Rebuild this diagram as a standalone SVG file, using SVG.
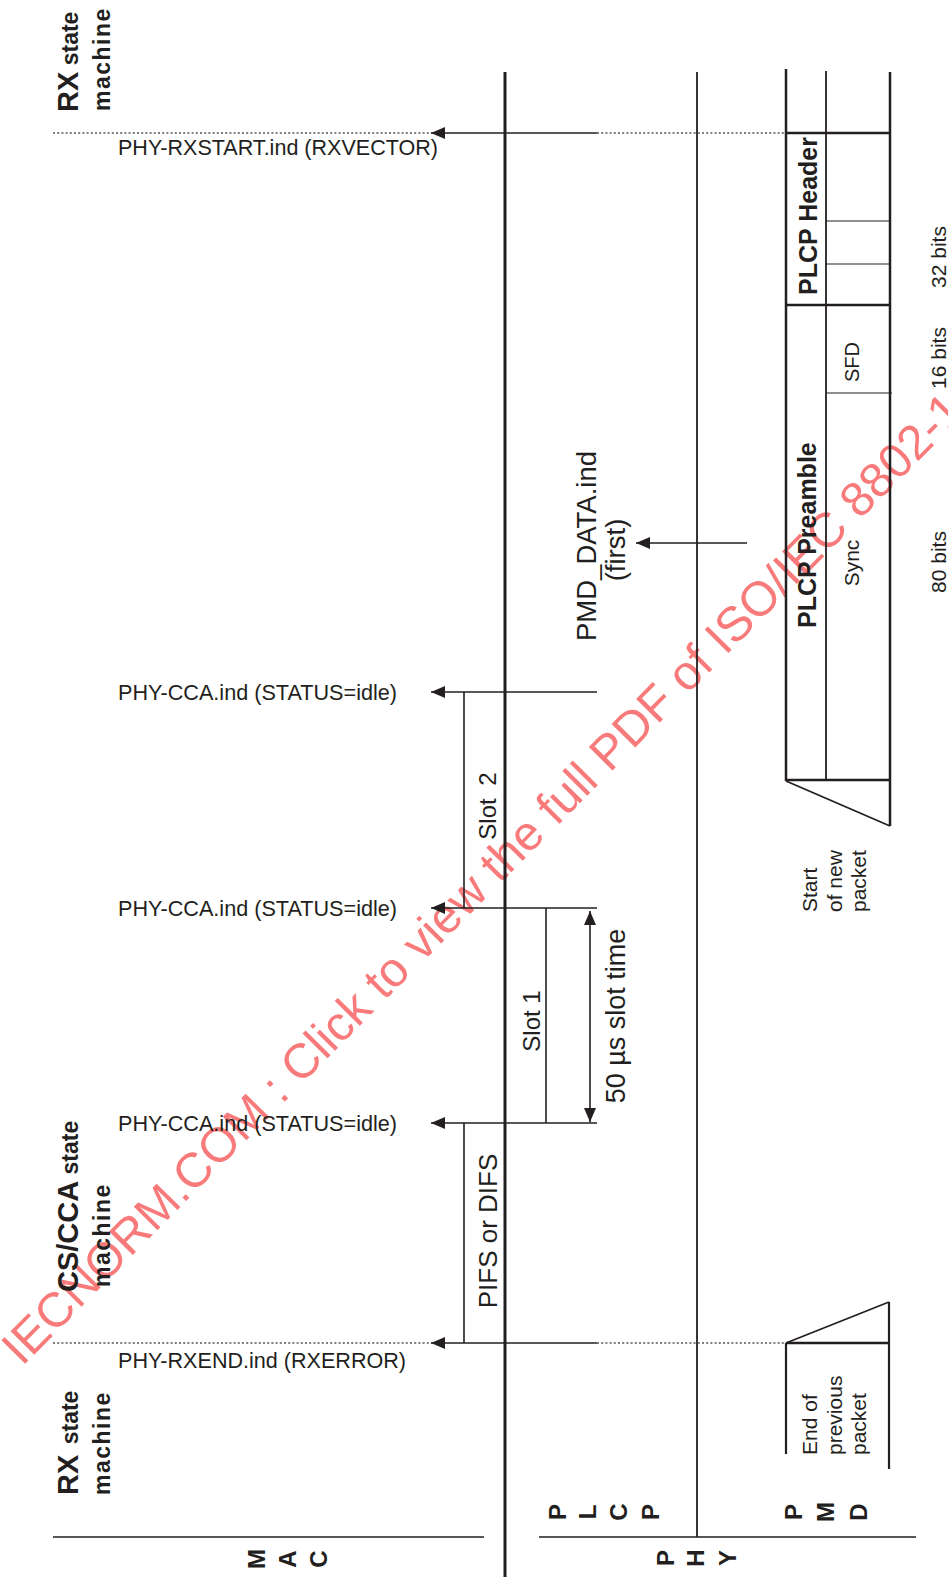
<svg xmlns="http://www.w3.org/2000/svg" width="948" height="1577" viewBox="0 0 948 1577">
<defs>
<style>
text{font-family:"Liberation Sans",Arial,Helvetica,sans-serif;fill:#231f20}
.b{font-weight:bold}
.lbl{font-size:21px}
.prim{font-size:21.6px}
.ltr{font-size:24px;font-weight:bold;text-anchor:middle}
.ln{stroke:#231f20;fill:none}
.dot{stroke:#555;stroke-width:1.3;stroke-dasharray:2 2.2;fill:none}
.ar{stroke:#231f20;stroke-width:1.6;fill:none}
.wm{font-size:48.5px;fill:#f87a7a}
.mid{text-anchor:middle}
</style>
<marker id="ah" markerUnits="userSpaceOnUse" viewBox="0 0 14 12" refX="14" refY="6" markerWidth="14" markerHeight="12" orient="auto-start-reverse">
<path d="M0,0 L14,6 L0,12 z" fill="#231f20"/>
</marker>
</defs>
<rect width="948" height="1577" fill="#fff"/>

<!-- watermark -->
<text class="wm" transform="translate(22,1367) rotate(-45.3)">IECNORM.COM : Click to view the full PDF of ISO/IEC 8802-1</text>

<!-- layer lines -->
<g id="lifelines">
<line class="ln" x1="505" y1="72" x2="505" y2="1577" stroke-width="3"/>
<line class="ln" x1="697" y1="72" x2="697" y2="1537" stroke-width="1.8"/>
<line class="ln" x1="53" y1="1537" x2="484" y2="1537" stroke-width="1.6"/>
<line class="ln" x1="539" y1="1537" x2="916" y2="1537" stroke-width="1.6"/>
</g>

<!-- PMD frame: new packet -->
<g id="new-packet">
<line class="ln" x1="786" y1="69" x2="786" y2="781" stroke-width="2.5"/>
<line class="ln" x1="826" y1="71" x2="826" y2="780" stroke-width="1.8"/>
<line class="ln" x1="890" y1="72" x2="890" y2="826" stroke-width="2.5"/>
<line class="ln" x1="786" y1="133" x2="890" y2="133" stroke-width="2.5"/>
<line class="ln" x1="786" y1="305" x2="890" y2="305" stroke-width="2.5"/>
<line class="ln" x1="786" y1="780" x2="890" y2="780" stroke-width="2.5"/>
<line class="ln" x1="826" y1="221" x2="890" y2="221" stroke-width="1.2"/>
<line class="ln" x1="826" y1="264" x2="890" y2="264" stroke-width="1.2"/>
<line class="ln" x1="826" y1="393" x2="892" y2="393" stroke-width="1.2"/>
<line class="ln" x1="786" y1="781" x2="890" y2="826" stroke-width="1.8"/>
</g>

<!-- PMD frame: previous packet -->
<g id="prev-packet">
<line class="ln" x1="786" y1="1343" x2="786" y2="1454" stroke-width="2.2"/>
<line class="ln" x1="889" y1="1302" x2="889" y2="1469" stroke-width="2.2"/>
<line class="ln" x1="786" y1="1343" x2="889" y2="1343" stroke-width="2.5"/>
<line class="ln" x1="786" y1="1343" x2="889" y2="1302" stroke-width="1.8"/>
</g>

<!-- slot boxes -->
<g id="slot2-box">
<line class="ln" x1="464" y1="692" x2="464" y2="908" stroke-width="1.6"/>
</g>
<g id="slot1-box">
<line class="ln" x1="546" y1="908" x2="546" y2="1123" stroke-width="1.6"/>
</g>
<g id="ifs-box">
<line class="ln" x1="464" y1="1123" x2="464" y2="1343" stroke-width="1.6"/>
</g>

<!-- connectors -->
<g id="connectors">
<line class="dot" x1="53" y1="133" x2="432" y2="133"/>
<line class="ar" x1="597" y1="133" x2="431" y2="133" marker-end="url(#ah)"/>
<line class="dot" x1="597" y1="133" x2="786" y2="133"/>

<line class="ar" x1="747" y1="543" x2="636" y2="543" marker-end="url(#ah)"/>

<line class="ar" x1="597" y1="692" x2="431" y2="692" marker-end="url(#ah)"/>
<line class="ar" x1="597" y1="908" x2="431" y2="908" marker-end="url(#ah)"/>
<line class="ar" x1="597" y1="1123" x2="431" y2="1123" marker-end="url(#ah)"/>

<line class="ar" x1="590" y1="911" x2="590" y2="1122" marker-start="url(#ah)" marker-end="url(#ah)"/>

<line class="dot" x1="53" y1="1343" x2="432" y2="1343"/>
<line class="ar" x1="597" y1="1343" x2="431" y2="1343" marker-end="url(#ah)"/>
<line class="dot" x1="597" y1="1343" x2="786" y2="1343"/>
</g>

<!-- left side state machine labels -->
<g id="rx-sm-top">
<text class="b" transform="translate(78,112) rotate(-90)"><tspan font-size="29">RX</tspan><tspan font-size="23"> state</tspan></text>
<text class="b" font-size="23" letter-spacing="1.5" transform="translate(110,111) rotate(-90)">machine</text>
</g>
<g id="cs-cca-sm">
<text class="b" transform="translate(78,1292) rotate(-90)"><tspan font-size="29">CS/CCA</tspan><tspan font-size="23"> state</tspan></text>
<text class="b" font-size="23" letter-spacing="1.5" transform="translate(110,1287) rotate(-90)">machine</text>
</g>
<g id="rx-sm-bottom">
<text class="b" transform="translate(78,1495) rotate(-90)"><tspan font-size="29">RX</tspan><tspan font-size="23" dx="4"> state</tspan></text>
<text class="b" font-size="23" letter-spacing="1.5" transform="translate(110,1495) rotate(-90)">machine</text>
</g>

<!-- primitive labels -->
<g id="primitive-labels">
<text class="prim" x="118" y="155" textLength="320" lengthAdjust="spacingAndGlyphs">PHY-RXSTART.ind (RXVECTOR)</text>
<text class="prim" x="118" y="700" textLength="279" lengthAdjust="spacingAndGlyphs">PHY-CCA.ind (STATUS=idle)</text>
<text class="prim" x="118" y="916" textLength="279" lengthAdjust="spacingAndGlyphs">PHY-CCA.ind (STATUS=idle)</text>
<text class="prim" x="118" y="1131" textLength="279" lengthAdjust="spacingAndGlyphs">PHY-CCA.ind (STATUS=idle)</text>
<text class="prim" x="118" y="1368" textLength="288" lengthAdjust="spacingAndGlyphs">PHY-RXEND.ind (RXERROR)</text>
</g>

<!-- interval labels -->
<g id="interval-labels">
<text class="mid" font-size="24" word-spacing="6" transform="translate(496,806) rotate(-90)">Slot 2</text>
<text class="mid" font-size="24" transform="translate(540,1021) rotate(-90)">Slot 1</text>
<text class="mid" font-size="26" transform="translate(497,1231) rotate(-90)">PIFS or DIFS</text>
<text class="mid" font-size="27" transform="translate(625,1016) rotate(-90)">50 µs slot time</text>
<text class="mid" font-size="27.5" transform="translate(595.5,546) rotate(-90)">PMD_DATA.ind</text>
<text class="mid" font-size="27.5" transform="translate(624.5,550) rotate(-90)">(first)</text>
</g>

<!-- packet field labels -->
<g id="field-labels">
<text class="b" font-size="25" transform="translate(817,295) rotate(-90)">PLCP Header</text>
<text class="b" font-size="25" transform="translate(816,628) rotate(-90)">PLCP Preamble</text>
<text class="mid" font-size="20" transform="translate(859,362) rotate(-90)">SFD</text>
<text class="mid" font-size="21" transform="translate(859,563) rotate(-90)">Sync</text>
<text class="mid lbl" transform="translate(946,257) rotate(-90)">32 bits</text>
<text class="mid lbl" transform="translate(946,358) rotate(-90)">16 bits</text>
<text class="mid lbl" transform="translate(946,562) rotate(-90)">80 bits</text>
</g>

<g id="start-label">
<text class="lbl" transform="translate(817,912) rotate(-90)">Start</text>
<text class="lbl" transform="translate(841.5,912) rotate(-90)">of new</text>
<text class="lbl" transform="translate(866,912) rotate(-90)">packet</text>
</g>
<g id="end-label">
<text class="lbl" transform="translate(817,1455) rotate(-90)">End of</text>
<text class="lbl" transform="translate(841.5,1455) rotate(-90)">previous</text>
<text class="lbl" transform="translate(866,1455) rotate(-90)">packet</text>
</g>

<!-- layer names -->
<g id="layer-mac">
<text class="ltr" dy="0.36em" transform="translate(256,1559) rotate(-90)">M</text>
<text class="ltr" dy="0.36em" transform="translate(287,1559) rotate(-90)">A</text>
<text class="ltr" dy="0.36em" transform="translate(318,1559) rotate(-90)">C</text>
</g>
<g id="layer-plcp">
<text class="ltr" dy="0.36em" transform="translate(557,1512) rotate(-90)">P</text>
<text class="ltr" dy="0.36em" transform="translate(587,1512) rotate(-90)">L</text>
<text class="ltr" dy="0.36em" transform="translate(618,1512) rotate(-90)">C</text>
<text class="ltr" dy="0.36em" transform="translate(650,1512) rotate(-90)">P</text>
</g>
<g id="layer-pmd">
<text class="ltr" dy="0.36em" transform="translate(793,1512) rotate(-90)">P</text>
<text class="ltr" dy="0.36em" transform="translate(825,1512) rotate(-90)">M</text>
<text class="ltr" dy="0.36em" transform="translate(858,1512) rotate(-90)">D</text>
</g>
<g id="layer-phy">
<text class="ltr" dy="0.36em" transform="translate(665,1558) rotate(-90)">P</text>
<text class="ltr" dy="0.36em" transform="translate(695,1558) rotate(-90)">H</text>
<text class="ltr" dy="0.36em" transform="translate(727,1558) rotate(-90)">Y</text>
</g>
</svg>
